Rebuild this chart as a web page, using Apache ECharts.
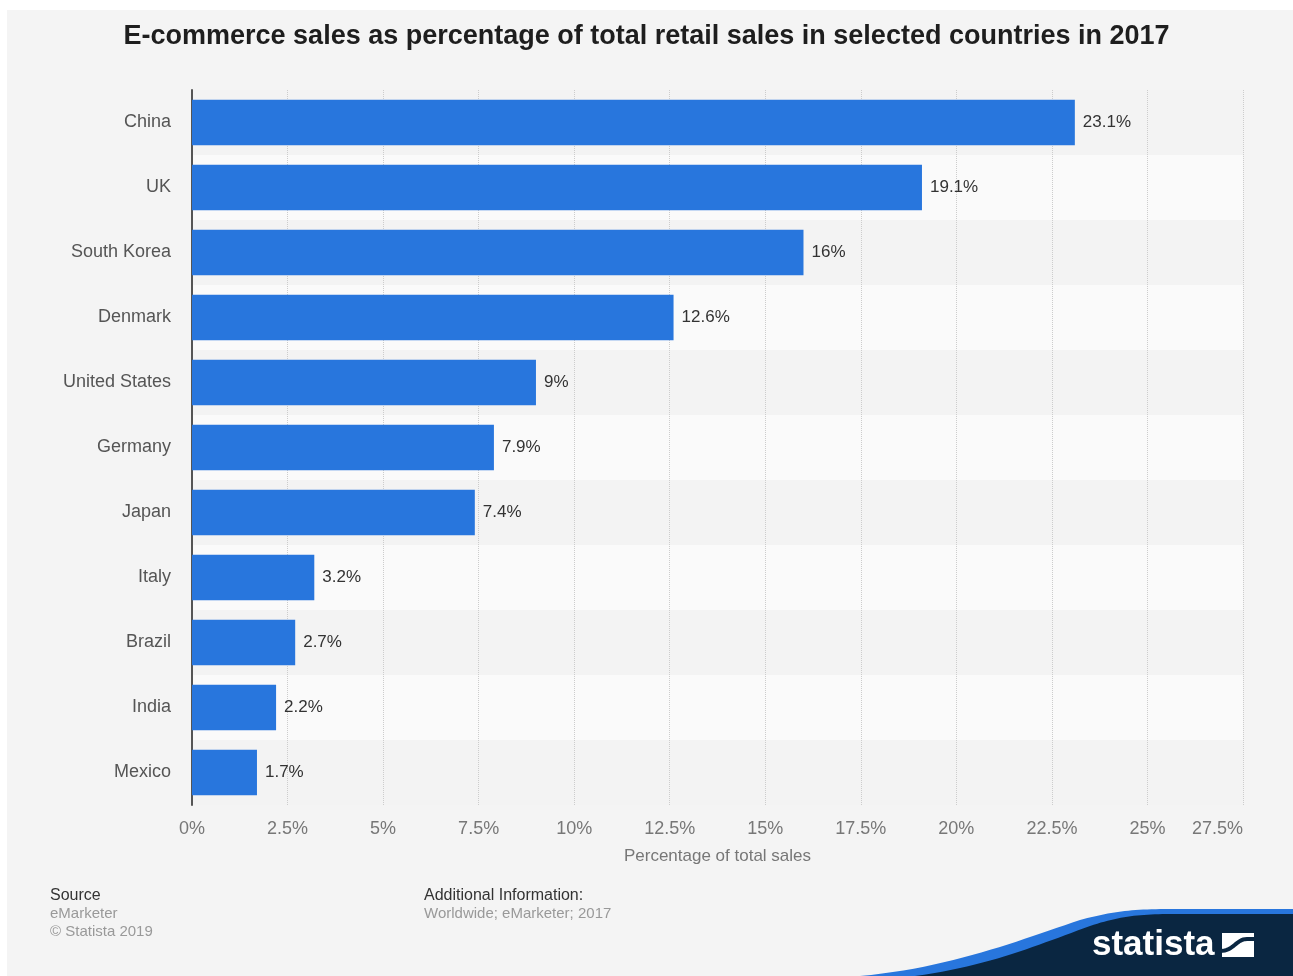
<!DOCTYPE html>
<html>
<head>
<meta charset="utf-8">
<script src="https://cdn.jsdelivr.net/npm/echarts@6/dist/echarts.min.js"></script>
<style>
  html, body { margin: 0; padding: 0; background: #ffffff; }
  #chart { width: 1293px; height: 976px; }
</style>
</head>
<body>
<div id="chart"></div>
<script>
// E-commerce share of total retail sales, 2017
const countries = ['China', 'UK', 'South Korea', 'Denmark', 'United States', 'Germany', 'Japan', 'Italy', 'Brazil', 'India', 'Mexico'];
const shares = [23.1, 19.1, 16, 12.6, 9, 7.9, 7.4, 3.2, 2.7, 2.2, 1.7];
const axisMax = 27.5;
const axisStep = 2.5;

const FONT = '"Liberation Sans", Arial, Helvetica, sans-serif';
const NAVY = '#0a2641';
const BLUE = '#2876dd';

// Sample a chain of cubic Bezier segments into polygon points
function bezierPoints(start, segments, steps) {
  const pts = [start.slice()];
  let p0 = start;
  segments.forEach(seg => {
    const [c1, c2, p3] = seg;
    for (let i = 1; i <= steps; i++) {
      const t = i / steps, u = 1 - t;
      pts.push([
        u * u * u * p0[0] + 3 * u * u * t * c1[0] + 3 * u * t * t * c2[0] + t * t * t * p3[0],
        u * u * u * p0[1] + 3 * u * u * t * c1[1] + 3 * u * t * t * c2[1] + t * t * t * p3[1]
      ]);
    }
    p0 = p3;
  });
  return pts;
}

// corner wave of the brand footer
const wavePts = bezierPoints([860, 976], [
  [[950, 968], [1020, 940], [1080, 920]],
  [[1110, 912], [1130, 909], [1170, 909]]
], 24).concat([[1293, 909], [1293, 976]]);
const navyPts = bezierPoints([915, 976], [
  [[990, 966], [1040, 944], [1090, 926]],
  [[1120, 916], [1140, 914], [1175, 914]]
], 24).concat([[1293, 914], [1293, 976]]);

const chart = echarts.init(document.getElementById('chart'), null, { renderer: 'canvas' });

chart.setOption({
  backgroundColor: '#ffffff',
  animation: false,
  textStyle: { fontFamily: FONT },
  title: {
    text: 'E-commerce sales as percentage of total retail sales in selected countries in 2017',
    left: 'center',
    top: 18,
    textStyle: { fontFamily: FONT, fontSize: 27, fontWeight: 'bold', color: '#1e1e1e' }
  },
  grid: { left: 192, right: 50, top: 90, bottom: 171, containLabel: false },
  xAxis: {
    type: 'value',
    min: 0,
    max: axisMax,
    interval: axisStep,
    axisLine: { show: false },
    axisTick: { show: false },
    axisLabel: {
      formatter: v => v + '%',
      color: '#777777',
      fontSize: 18,
      margin: 15,
      alignMaxLabel: 'right'
    },
    splitLine: { show: true, lineStyle: { color: '#cccccc', type: 'dotted', width: 1 } },
    name: 'Percentage of total sales',
    nameLocation: 'middle',
    nameGap: 43,
    nameTextStyle: { color: '#777777', fontSize: 17 }
  },
  yAxis: {
    type: 'category',
    data: countries,
    inverse: true,
    axisLine: { show: true, lineStyle: { color: '#555555', width: 2 } },
    axisTick: { show: false },
    axisLabel: { color: '#555555', fontSize: 18, margin: 21, padding: [3, 0, 0, 0] },
    splitLine: { show: false },
    splitArea: { show: true, areaStyle: { color: ['#f3f3f3', '#fafafa'] } }
  },
  series: [{
    type: 'bar',
    data: shares,
    barWidth: '70%',
    itemStyle: { color: BLUE },
    label: {
      show: true,
      position: 'right',
      distance: 8,
      formatter: p => p.value + '%',
      color: '#333333',
      fontSize: 17
    },
    z: 3
  }],
  graphic: [
    // grey page panel
    { type: 'rect', z: -10, silent: true, shape: { x: 7, y: 10, width: 1286, height: 966 }, style: { fill: '#f4f4f4' } },
    // footer: source
    { type: 'text', x: 50, y: 896, style: { text: 'Source', fill: '#333333', font: '16px ' + FONT, verticalAlign: 'middle' } },
    { type: 'text', x: 50, y: 914, style: { text: 'eMarketer', fill: '#999999', font: '15px ' + FONT, verticalAlign: 'middle' } },
    { type: 'text', x: 50, y: 932, style: { text: '\u00A9 Statista 2019', fill: '#999999', font: '15px ' + FONT, verticalAlign: 'middle' } },
    // footer: additional information
    { type: 'text', x: 424, y: 896, style: { text: 'Additional Information:', fill: '#333333', font: '16px ' + FONT, verticalAlign: 'middle' } },
    { type: 'text', x: 424, y: 914, style: { text: 'Worldwide; eMarketer; 2017', fill: '#999999', font: '15px ' + FONT, verticalAlign: 'middle' } },
    // brand wave in the corner
    { type: 'polygon', silent: true, shape: { points: wavePts }, style: { fill: BLUE } },
    { type: 'polygon', silent: true, shape: { points: navyPts }, style: { fill: NAVY } },
    { type: 'text', x: 1092, y: 928, style: { text: 'statista', fill: '#ffffff', font: 'bold 35px ' + FONT } },
    { type: 'rect', silent: true, shape: { x: 1222, y: 933, width: 32, height: 24 }, style: { fill: '#ffffff' } },
    { type: 'polyline', silent: true,
      shape: { points: bezierPoints([1220, 951], [[[1234, 951], [1236, 939], [1247, 939]]], 16).concat([[1256, 939]]) },
      style: { fill: null, stroke: NAVY, lineWidth: 4 } }
  ]
});
</script>
</body>
</html>
